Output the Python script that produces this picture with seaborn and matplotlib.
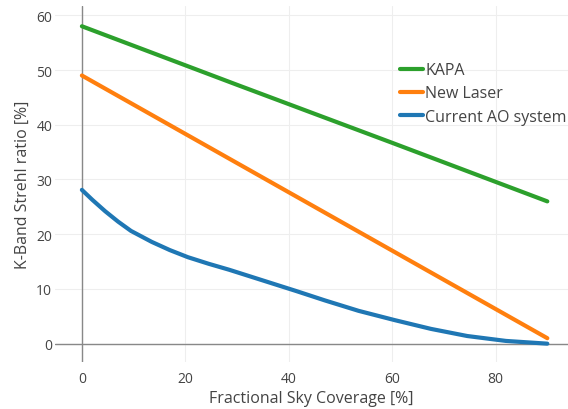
import matplotlib
matplotlib.use("Agg")
import matplotlib.pyplot as plt
import pandas as pd
import seaborn as sns

# Fractional sky coverage [%] and K-band Strehl ratio [%]
ao_coverage = [0, 2, 4.5, 7, 9.5, 13.5, 17, 20.5, 24.5, 28.5, 35.5, 41.5, 47, 53.5, 60.5, 67.5, 74.5, 82, 90]
current_ao = [28.1, 26.3, 24.2, 22.3, 20.6, 18.6, 17.1, 15.8, 14.6, 13.5, 11.4, 9.6, 7.9, 6.0, 4.3, 2.7, 1.4, 0.5, 0.0]

laser_coverage = [0, 30, 60, 90]
new_laser = [49, 33.0, 17.0, 1.0]

kapa_coverage = [0, 30, 60, 90]
kapa = [58, 47.3, 36.7, 26.0]

series_names = ["Current AO system", "New Laser", "KAPA"]
series_colors = ["#1f77b4", "#ff7f0e", "#2ca02c"]

df = pd.concat(
    [
        pd.DataFrame({"coverage": xs, "strehl": ys, "system": name})
        for name, xs, ys in zip(
            series_names,
            [ao_coverage, laser_coverage, kapa_coverage],
            [current_ao, new_laser, kapa],
        )
    ],
    ignore_index=True,
)

sns.set_style("white")
plt.rcParams["font.family"] = ["Open Sans", "DejaVu Sans"]
text_color = "#444444"

fig = plt.figure(figsize=(5.68, 4.10), dpi=100)
ax = fig.add_axes([55 / 568, 1 - 363 / 410, 1 - 55 / 568, (363 - 7) / 410])

ax.axhline(0, color="#888888", lw=1.0, zorder=1)
ax.axvline(0, color="#888888", lw=1.0, zorder=1)

sns.lineplot(
    data=df,
    x="coverage",
    y="strehl",
    hue="system",
    hue_order=series_names,
    palette=series_colors,
    linewidth=3.0,
    solid_capstyle="round",
    solid_joinstyle="round",
    ax=ax,
    zorder=3,
)

ax.set_xlim(-5.2, 94.0)
ax.set_ylim(-3.35, 61.7)
ax.set_xticks([0, 20, 40, 60, 80])
ax.set_yticks([0, 10, 20, 30, 40, 50, 60])
ax.grid(True, color="#eeeeee", lw=0.8)
ax.set_axisbelow(True)
for s in ax.spines.values():
    s.set_visible(False)
ax.tick_params(length=0, labelsize=10, labelcolor=text_color)
ax.tick_params(axis="y", pad=2)
ax.tick_params(axis="x", pad=6.5)

ax.set_xlabel("Fractional Sky Coverage [%]", fontsize=11.5, color=text_color, labelpad=3)
ax.set_ylabel("K-Band Strehl ratio [%]", fontsize=11.5, color=text_color, labelpad=4)

handles, labels = ax.get_legend_handles_labels()
leg = ax.legend(
    handles[::-1],
    labels[::-1],
    loc="upper left",
    bbox_to_anchor=(0.6725, 0.842),
    frameon=False,
    fontsize=11.5,
    handlelength=1.45,
    handletextpad=0.12,
    labelspacing=0.45,
    borderaxespad=0,
    borderpad=0,
)
for t in leg.get_texts():
    t.set_color(text_color)

fig.savefig("out.png", dpi=100)
